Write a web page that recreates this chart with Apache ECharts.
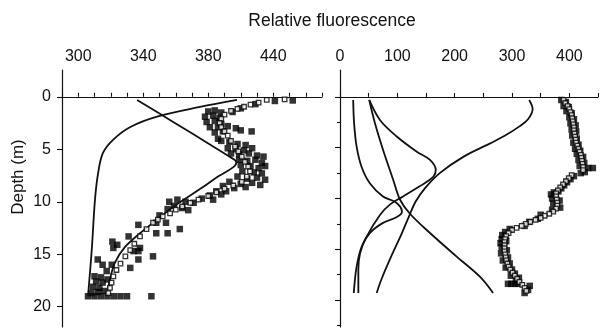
<!DOCTYPE html>
<html><head><meta charset="utf-8">
<script src="https://cdn.jsdelivr.net/npm/echarts@6/dist/echarts.min.js"></script>
<style>html,body{margin:0;padding:0;background:#fff}#c{width:603px;height:330px}</style>
</head><body><div id="c"></div>
<script>
const FONT = '"Liberation Sans", Arial, Helvetica, sans-serif';
const titleText = 'Relative fluorescence';
const yName = 'Depth (m)';

// axis ticks / labels
const leftXTicks = [290,300,310,320,330,340,350,360,370,380,390,400,410,420,430,440,450];
const leftXLabelValues = [300,340,380,420];
const leftXLabelTexts = ['300','340','380','440'];
const rightXTicks = [0,50,100,150,200,250,300,350,400,450];
const rightXLabelValues = [0,100,200,300,400];
const leftYLabelValues = [0,5,10,15,20];
const rightYMajor = [0,5,10,15,20];
const rightYMinor = [2.5,7.5,12.5,17.5,22.5];

// ---- left panel: [fluorescence, depth]
const leftCurveA = [[397.7,0.3],[374.9,0.97],[348.5,1.9],[331.8,2.9],[321.4,4.1],[315.2,5.35],[312.2,7.3],[310.3,9.8],[308.3,14.6],[306,19]];
const leftCurveB = [[336.2,0.3],[350.5,1.65],[364.8,3.0],[379,4.35],[392.5,5.65],[397.3,6.25],[395,6.75],[386,7.6],[376.8,8.6],[358.3,10.5],[348.5,11.7],[338,13],[328.8,14.3],[322.6,15.8],[319.5,17.4],[318.3,18.4]];
const leftFilled = [
 [421,0.4],[432,0.35],[409,0.7],[400,1.1],[395,1.45],
 [380,1.4],[384,1.3],[388,1.5],[378,1.9],[383,1.8],[387,2.0],[379,2.4],[384,2.3],[388,2.6],[381,2.9],[386,2.9],[392,2.8],[397,3.0],[400,3.2],[384,3.4],[389,3.3],[406.7,3.3],[386,4.0],[388,4.2],[393,4.3],[398,4.5],[403,4.6],
 [392,4.9],[397,5.0],[402,5.1],[407,4.9],[394,5.4],[399,5.5],[405,5.4],[410,5.6],[414,5.7],[399,6.0],[404,6.1],[409,6.0],[413,6.3],[400,6.5],[406,6.6],[411,6.8],[415,6.6],[401,7.1],[408,7.2],[413,7.3],[398,7.6],[404,7.8],[410,7.7],[415,7.9],[393,8.1],[400,8.3],[407,8.2],[412,8.4],[389,8.5],[396,8.7],[403,8.6],
 [385,9.0],[391,9.0],[381,9.4],[388,9.3],[376,9.7],[383,9.8],[371,10.1],[366,10.0],
 [356,10.0],[361,9.8],[359,10.4],[364,10.6],[355,10.7],[367.7,10.8],
 [350,11.3],[348,12.0],[354,12.0],[337,12.2],[362.5,12.6],[348,13.0],[355,13.0],[331,13.3],
 [321,13.8],[324,14.1],[321.6,14.4],[338,14.4],[334,14.7],[337,14.7],[346,15.2],[337,15.5],[312,15.5],[315,16.0],[320.6,16.0],[332,16.3],[317.5,16.6],
 [310,17.1],[314,17.2],[311,17.6],[315,17.7],[309,18.1],[313,18.2],[316,18.5],[318,17.4],
 [306,19.0],[310,19.0],[314,19.0],[318,19.0],[322,19.0],[326,19.0],[330,19.0],[345,19.0],[308,18.7],[312,18.6]
];
const leftOpen = [
 [427,0.25],[416,0.3],[411,0.55],[406,0.75],[402,0.95],[398,1.15],[394,1.35],
 [390,1.7],[388,2.1],[387,2.5],[388,2.9],[390,3.3],[392,3.7],[394,4.2],[396.5,4.75],[398.5,5.2],[400.6,5.7],[402.6,6.2],[404.6,6.65],[405.7,7.1],[403.7,7.6],[400.6,8.1],[395.4,8.45],[390,8.75],[385,9.1],[380,9.45],[374,9.8],[369,10.1],[364,10.45],[360,10.75],[356.5,11.1],[352,11.4],[349,11.7],[346,12.0],[342,12.6],[338,13.3],[334.5,14.0],[332,14.6],[329,15.2],[326,15.9],[323.5,16.5],[321.6,17.1],[320.5,17.7],[319.5,18.2],[318.5,18.7]
];

// ---- right panel
const rightCurve1 = [[330,0.3],[336,1.2],[328,2.2],[313,2.9],[288,3.8],[261,4.6],[215,5.9],[174,7.5],[148,9.0],[132,10.3],[120,11.8],[108,13.4],[87,16],[72,18],[64,19.3]];
const rightCurve2 = [[51,0.3],[70,2.3],[99,3.9],[134,5.4],[157,6.2],[167,7.2],[163,7.85],[139,8.8],[110,9.8],[87,10.6],[70,11.6],[46,13.8],[35,15.4],[32,17],[32,19.3]];
const rightCurve3 = [[23,0.3],[24.6,2.6],[29,4.9],[37.7,6.9],[52,8.5],[75,9.8],[95,10.3],[105,10.8],[108,11.3],[100,11.8],[75,12.4],[52,13.4],[38,14.7],[29,16.7],[24,19.3]];
const rightCurve4 = [[51,0.3],[61,2.6],[75,5.2],[93,8.2],[104.5,10.1],[122,11.5],[157,13.4],[203,15.7],[244,17.7],[267,19.3]];
const rightFilled = [
 [386,0.3],[394,0.5],[390,0.9],[399,1.0],[395,1.4],[404,1.6],[400,2.0],[408,2.2],[402,2.6],[411,2.8],[404,3.2],[412,3.4],[405,3.8],[413,4.1],[407,4.5],[416,4.7],[410,5.1],[419,5.3],[413,5.6],[424,5.9],[416,6.2],[426,6.5],[418,6.8],[433,7.0],[441,7.0],[427,7.4],[420,7.5],
 [408,7.8],[402,8.1],[396,8.4],[391,8.7],[386,9.0],[381,9.3],[373,9.4],[368,9.6],[370,10.0],
 [383,10.2],[372,10.5],[384,10.9],[370,11.1],[350,11.6],[345,12.0],[330,12.3],[322,12.7],
 [296,13.0],[288,13.3],[283,13.6],[282,14.0],[290,14.2],[280,14.4],[282,14.8],[291,15.1],[281,15.4],[293,15.8],[284,16.1],[296,16.4],[289,16.8],[300,17.0],
 [305,17.4],[298,17.6],[312,17.8],[307,18.1],[293,18.4],[299,18.4],[305,18.4],[311,18.4],[331,18.6],[328,19.0],[322,19.3]
];
const rightOpen = [
 [390,0.3],[393,0.6],[397,0.9],[400,1.2],[402,1.5],[404,1.8],[405,2.1],[406,2.4],[407,2.7],[408,3.0],[408,3.3],[409,3.6],[410,3.9],[411,4.2],[412,4.5],[414,4.8],[416,5.1],[418,5.4],[420,5.7],[421,6.0],[422,6.3],[423,6.6],[424,6.9],[424,7.2],
 [404,7.7],[399,8.0],[394,8.3],[389,8.6],[384,8.9],[380,9.2],[377,9.5],[377,9.8],[378,10.1],[379,10.4],[379,10.7],[377,11.0],[372,11.3],[365,11.5],[357,11.7],[350,11.9],[341,12.1],[332,12.3],[324,12.5],[317,12.7],[308,12.9],[300,13.1],[294,13.4],[290,13.7],[288,14.0],[287,14.3],[287,14.6],[287,14.9],[287,15.2],[288,15.5],[289,15.8],[290,16.1],[292,16.4],[294,16.7],[297,17.0],[301,17.3],[305,17.6],[309,17.9],[313,18.2],[318,18.5],[322,18.8],[325,19.1]
];

const INK = '#111';
const chart = echarts.init(document.getElementById('c'), null, {renderer: 'canvas'});

function lineSeries(data, xi, yi) {
  return {type: 'line', xAxisIndex: xi, yAxisIndex: yi, data: data, smooth: 0.35,
    showSymbol: false, symbol: 'none', lineStyle: {color: INK, width: 1.8}, z: 3, silent: true};
}
function filledSeries(data, xi, yi) {
  return {type: 'scatter', xAxisIndex: xi, yAxisIndex: yi, data: data, symbol: 'rect', symbolSize: 6.5,
    itemStyle: {color: '#000'}, z: 2, silent: true};
}
function openSeries(data, xi, yi) {
  return {type: 'scatter', xAxisIndex: xi, yAxisIndex: yi, data: data, symbol: 'rect', symbolSize: 4.5,
    itemStyle: {color: '#fff', borderColor: '#000', borderWidth: 1.3}, z: 4, silent: true};
}

const axisLineStyle = {show: true, lineStyle: {color: INK, width: 1.2}};
const labelStyle = {color: INK, fontFamily: FONT, fontSize: 16};

const option = {
  animation: false,
  backgroundColor: '#fff',
  grid: [
    {left: 62, top: 70, width: 260, height: 257},
    {left: 340, top: 70, width: 258, height: 257}
  ],
  xAxis: [
    {type: 'value', gridIndex: 0, position: 'top', min: 290, max: 450,
     axisLine: axisLineStyle, splitLine: {show: false},
     axisTick: {show: true, length: 4, customValues: leftXTicks, lineStyle: {color: INK, width: 1.1}},
     axisLabel: Object.assign({margin: 5, customValues: leftXLabelValues,
       formatter: function (v) { const i = leftXLabelValues.indexOf(v); return i >= 0 ? leftXLabelTexts[i] : ''; }}, labelStyle)},
    {type: 'value', gridIndex: 1, position: 'top', min: 0, max: 450,
     axisLine: axisLineStyle, splitLine: {show: false},
     axisTick: {show: true, length: 4, customValues: rightXTicks, lineStyle: {color: INK, width: 1.1}},
     axisLabel: Object.assign({margin: 5, customValues: rightXLabelValues, formatter: function (v) { return String(v); }}, labelStyle)}
  ],
  yAxis: [
    {type: 'value', gridIndex: 0, position: 'left', inverse: true, min: -2.55, max: 21.93,
     axisLine: axisLineStyle, splitLine: {show: false},
     axisTick: {show: true, length: 5, customValues: leftYLabelValues, lineStyle: {color: INK, width: 1.1}},
     axisLabel: Object.assign({margin: 11, customValues: leftYLabelValues, formatter: function (v) { return String(v); }}, labelStyle)},
    {type: 'value', gridIndex: 1, position: 'left', inverse: true, min: -2.65, max: 22.65,
     axisLine: axisLineStyle, splitLine: {show: false},
     axisTick: {show: true, length: 5, customValues: rightYMajor, lineStyle: {color: INK, width: 1.1}},
     axisLabel: {show: false}},
    {type: 'value', gridIndex: 1, position: 'left', offset: 0, inverse: true, min: -2.65, max: 22.65,
     axisLine: {show: false}, splitLine: {show: false},
     axisTick: {show: true, length: 3, customValues: rightYMinor, lineStyle: {color: INK, width: 1.1}},
     axisLabel: {show: false}}
  ],
  graphic: [
    {type: 'text', x: 332, y: 21, style: {text: titleText, fill: INK, font: '17.5px ' + FONT, align: 'center', verticalAlign: 'middle'}},
    {type: 'text', x: 18, y: 177, rotation: Math.PI / 2,
     style: {text: yName, fill: INK, font: '17px ' + FONT, align: 'center', verticalAlign: 'middle'}}
  ],
  series: [
    filledSeries(leftFilled, 0, 0),
    lineSeries(leftCurveA, 0, 0),
    lineSeries(leftCurveB, 0, 0),
    openSeries(leftOpen, 0, 0),
    filledSeries(rightFilled, 1, 1),
    lineSeries(rightCurve1, 1, 1),
    lineSeries(rightCurve2, 1, 1),
    lineSeries(rightCurve3, 1, 1),
    lineSeries(rightCurve4, 1, 1),
    openSeries(rightOpen, 1, 1)
  ]
};
chart.setOption(option);
</script></body></html>
